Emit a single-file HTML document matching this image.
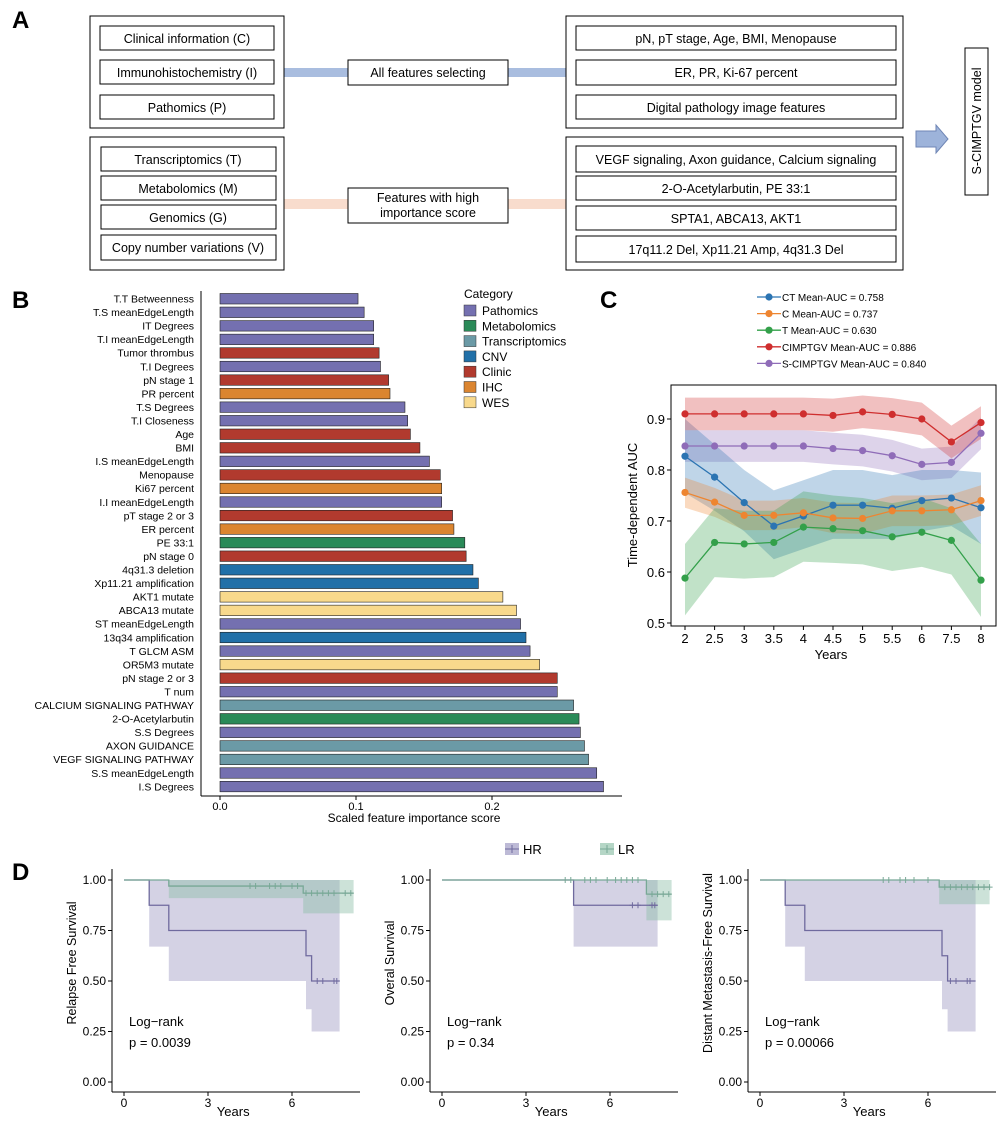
<!DOCTYPE html>
<html><head><meta charset="utf-8"><style>
body{margin:0;background:#fff}
svg{font-family:"Liberation Sans",sans-serif;display:block}
</style></head><body>
<svg id="fig" width="1006" height="1130" viewBox="0 0 1006 1130" xmlns="http://www.w3.org/2000/svg">
<g id="panelA" font-size="12.5" text-anchor="middle">
<text x="12" y="28" font-size="24" font-weight="bold" text-anchor="start">A</text>
<rect x="284" y="68" width="282" height="9" fill="#a9bddf"/>
<rect x="284" y="199" width="282" height="10" fill="#f8dccd"/>
<rect x="90" y="16" width="194" height="112" fill="none" stroke="#000"/>
<rect x="566" y="16" width="337" height="112" fill="none" stroke="#000"/>
<rect x="90" y="137" width="194" height="133" fill="none" stroke="#000"/>
<rect x="566" y="137" width="337" height="133" fill="none" stroke="#000"/>
<g fill="#fff" stroke="#000">
<rect x="100" y="26" width="174" height="24"/>
<rect x="100" y="60" width="174" height="24"/>
<rect x="100" y="95" width="174" height="24"/>
<rect x="101" y="147" width="175" height="24"/>
<rect x="101" y="176" width="175" height="24"/>
<rect x="101" y="205" width="175" height="24"/>
<rect x="101" y="235" width="175" height="25"/>
<rect x="576" y="26" width="320" height="24"/>
<rect x="576" y="60" width="320" height="25"/>
<rect x="576" y="95" width="320" height="24"/>
<rect x="576" y="146" width="320" height="26"/>
<rect x="576" y="176" width="320" height="24"/>
<rect x="576" y="206" width="320" height="24"/>
<rect x="576" y="236" width="320" height="26"/>
<rect x="348" y="60" width="160" height="25"/>
<rect x="348" y="188" width="160" height="35"/>
<rect x="965" y="48" width="23" height="147"/>
</g>
<text x="187" y="43">Clinical information (C)</text>
<text x="187" y="77">Immunohistochemistry (I)</text>
<text x="187" y="112">Pathomics (P)</text>
<text x="188" y="164">Transcriptomics (T)</text>
<text x="188" y="193">Metabolomics (M)</text>
<text x="188" y="222">Genomics (G)</text>
<text x="188" y="252">Copy number variations (V)</text>
<text x="736" y="43">pN, pT stage, Age, BMI, Menopause</text>
<text x="736" y="77">ER, PR, Ki-67 percent</text>
<text x="736" y="112">Digital pathology image features</text>
<text x="736" y="164">VEGF signaling, Axon guidance, Calcium signaling</text>
<text x="736" y="193">2-O-Acetylarbutin, PE 33:1</text>
<text x="736" y="223">SPTA1, ABCA13, AKT1</text>
<text x="736" y="254">17q11.2 Del, Xp11.21 Amp, 4q31.3 Del</text>
<text x="428" y="77">All features selecting</text>
<text x="428" y="202">Features with high</text>
<text x="428" y="217">importance score</text>
<text transform="translate(981,121) rotate(-90)">S-CIMPTGV model</text>
<path d="M916,131 H936 V125 L948,139 L936,153 V147 H916 Z" fill="#9db3da" stroke="#6f86b5"/>
</g>
<g id="panelB">
<text x="12" y="308" font-size="24" font-weight="bold">B</text>
</g>
<g id="panelC">
<text x="600" y="308" font-size="24" font-weight="bold">C</text>
</g>
<g id="panelD">
<text x="12" y="880" font-size="24" font-weight="bold">D</text>
</g>
</svg>
<script>
const NS='http://www.w3.org/2000/svg';
function mk(p,tag,at,txt){const e=document.createElementNS(NS,tag);for(const k in at)e.setAttribute(k,at[k]);if(txt!==undefined)e.textContent=txt;p.appendChild(e);return e;}
// ---------- Panel B data ----------
const featNames=["T.T Betweenness","T.S meanEdgeLength","IT Degrees","T.I meanEdgeLength","Tumor thrombus","T.I Degrees","pN stage 1","PR percent","T.S Degrees","T.I Closeness","Age","BMI","I.S meanEdgeLength","Menopause","Ki67 percent","I.I meanEdgeLength","pT stage 2 or 3","ER percent","PE 33:1","pN stage 0","4q31.3 deletion","Xp11.21 amplification","AKT1 mutate","ABCA13 mutate","ST meanEdgeLength","13q34 amplification","T GLCM ASM","OR5M3 mutate","pN stage 2 or 3","T num","CALCIUM SIGNALING PATHWAY","2-O-Acetylarbutin","S.S Degrees","AXON GUIDANCE","VEGF SIGNALING PATHWAY","S.S meanEdgeLength","I.S Degrees"];
const featScores=[0.1015,0.106,0.113,0.113,0.117,0.118,0.124,0.125,0.136,0.138,0.140,0.147,0.154,0.162,0.163,0.163,0.171,0.172,0.180,0.181,0.186,0.190,0.208,0.218,0.221,0.225,0.228,0.235,0.248,0.248,0.260,0.264,0.265,0.268,0.271,0.277,0.282];
const featCats=["P","P","P","P","Cl","P","Cl","I","P","P","Cl","Cl","P","Cl","I","P","Cl","I","M","Cl","CNV","CNV","W","W","P","CNV","P","W","Cl","P","T","M","P","T","T","P","P"];
const catKeys=["P","M","T","CNV","Cl","I","W"];
const catLabels=["Pathomics","Metabolomics","Transcriptomics","CNV","Clinic","IHC","WES"];
const catColors=["#7470b0","#2a8a58","#6b9aa6","#2170a8","#b13a2e","#db8530","#f8d98c"];
const xTicksB=[0.0,0.1,0.2];
const B=document.getElementById('panelB');
const bx=v=>220+v*1360, by=i=>292+i*13.55;
featScores.forEach((v,i)=>{
 const r=mk(B,'rect',{x:bx(0),y:by(i)+1.5,width:bx(v)-bx(0),height:10.5,fill:catColors[catKeys.indexOf(featCats[i])],stroke:'#222','stroke-width':0.6});
 
 
 const t=mk(B,'text',{x:194,y:by(i)+10.5,'font-size':10.5,'text-anchor':'end'},featNames[i]);
 
 
});
mk(B,'line',{x1:201,y1:291,x2:201,y2:796,stroke:'#000'});
mk(B,'line',{x1:201,y1:796,x2:622,y2:796,stroke:'#000'});
xTicksB.forEach(v=>{mk(B,'line',{x1:bx(v),y1:796,x2:bx(v),y2:800,stroke:'#000'});
 const t=mk(B,'text',{x:bx(v),y:810,'font-size':11,'text-anchor':'middle'},v.toFixed(1));
 
 });
{const t=mk(B,'text',{x:414,y:822,'font-size':12,'text-anchor':'middle'},'Scaled feature importance score');
 
 }
mk(B,'text',{x:464,y:298,'font-size':12},'Category');
catLabels.forEach((c,i)=>{
 const r=mk(B,'rect',{x:464,y:305+i*15.3,width:12,height:11,fill:catColors[i],stroke:'#333','stroke-width':0.5});
 
 
 const t=mk(B,'text',{x:482,y:315+i*15.3,'font-size':12},c);
 
 
});
// ---------- Panel C data ----------
const years=["2","2.5","3","3.5","4","4.5","5","5.5","6","7.5","8"];
const seriesNames=["CT Mean-AUC = 0.758","C Mean-AUC = 0.737","T Mean-AUC = 0.630","CIMPTGV Mean-AUC = 0.886","S-CIMPTGV Mean-AUC = 0.840"];
const seriesColors=["#2b74b2","#ee8530","#33a04a","#cf2e2e","#8f6cb8"];
const ctMean=[0.827,0.786,0.736,0.690,0.710,0.731,0.731,0.725,0.740,0.745,0.726];
const ctHi=[0.900,0.850,0.800,0.760,0.780,0.800,0.800,0.790,0.800,0.800,0.795];
const ctLo=[0.755,0.720,0.680,0.625,0.645,0.665,0.665,0.665,0.680,0.690,0.655];
const cMean=[0.756,0.737,0.711,0.711,0.716,0.706,0.705,0.720,0.720,0.722,0.740];
const cHi=[0.785,0.765,0.740,0.740,0.745,0.736,0.735,0.750,0.750,0.752,0.770];
const cLo=[0.726,0.708,0.682,0.682,0.688,0.676,0.675,0.690,0.690,0.692,0.710];
const tMean=[0.588,0.658,0.655,0.658,0.688,0.685,0.681,0.669,0.678,0.662,0.584];
const tHi=[0.655,0.725,0.720,0.720,0.758,0.750,0.745,0.735,0.745,0.725,0.655];
const tLo=[0.515,0.590,0.587,0.590,0.620,0.618,0.615,0.602,0.610,0.595,0.512];
const ciMean=[0.910,0.910,0.910,0.910,0.910,0.907,0.914,0.909,0.900,0.855,0.893];
const ciHi=[0.942,0.942,0.942,0.942,0.942,0.940,0.946,0.941,0.932,0.887,0.925];
const ciLo=[0.878,0.878,0.878,0.878,0.878,0.875,0.882,0.877,0.868,0.823,0.861];
const sMean=[0.847,0.847,0.847,0.847,0.847,0.842,0.838,0.828,0.811,0.815,0.872];
const sHi=[0.878,0.878,0.878,0.878,0.878,0.873,0.869,0.859,0.842,0.846,0.903];
const sLo=[0.816,0.816,0.816,0.816,0.816,0.811,0.807,0.797,0.780,0.784,0.841];
const yTicksC=[0.5,0.6,0.7,0.8,0.9];
const C=document.getElementById('panelC');
const cx=i=>685+i*29.6, cy=v=>419-(v-0.9)*510;
const means=[ctMean,cMean,tMean,ciMean,sMean],his=[ctHi,cHi,tHi,ciHi,sHi],los=[ctLo,cLo,tLo,ciLo,sLo];
[4,0,1,2,3].forEach(s=>{
 let d='M'+his[s].map((v,i)=>cx(i)+','+cy(v)).join(' L')+' L'+los[s].map((v,i)=>cx(i)+','+cy(v)).reverse().join(' L')+'Z';
 const p=mk(C,'path',{d:d,fill:seriesColors[s],'fill-opacity':0.3});
 
 
});
means.forEach((m,s)=>{
 const l=mk(C,'polyline',{points:m.map((v,i)=>cx(i)+','+cy(v)).join(' '),fill:'none',stroke:seriesColors[s],'stroke-width':1.3});
 
 
 m.forEach((v,i)=>{const c=mk(C,'circle',{cx:cx(i),cy:cy(v),r:3.6,fill:seriesColors[s]});
 
 });
});
mk(C,'rect',{x:671,y:385,width:325,height:241,fill:'none',stroke:'#000','stroke-width':1});
yTicksC.forEach(v=>{mk(C,'line',{x1:667,y1:cy(v),x2:671,y2:cy(v),stroke:'#000'});
 const t=mk(C,'text',{x:665,y:cy(v)+5,'font-size':13,'text-anchor':'end'},v.toFixed(1));
 
 });
years.forEach((y,i)=>{mk(C,'line',{x1:cx(i),y1:626,x2:cx(i),y2:630,stroke:'#000'});
 const t=mk(C,'text',{x:cx(i),y:643,'font-size':13,'text-anchor':'middle'},y);
 
 });
{const t=mk(C,'text',{x:831,y:659,'font-size':13,'text-anchor':'middle'},'Years');
 
 
 const u=mk(C,'text',{transform:'translate(637,505) rotate(-90)','font-size':13,'text-anchor':'middle'},'Time-dependent AUC');
 
 }
seriesNames.forEach((n,s)=>{const y=297+s*16.6;
 mk(C,'line',{x1:757,y1:y,x2:781,y2:y,stroke:seriesColors[s],'stroke-width':1.3});
 mk(C,'circle',{cx:769,cy:y,r:3.6,fill:seriesColors[s]});
 const t=mk(C,'text',{x:782,y:y+4,'font-size':10},n);
 
 });
// ---------- Panel D data ----------
const kmTitles=["Relapse Free Survival","Overal Survival","Distant Metastasis-Free Survival"];
const kmP=["p = 0.0039","p = 0.34","p = 0.00066"];
const hrT=[[0,0.9,1.6,6.5,6.7,7.7],[0,4.7,7.7],[0,0.9,1.6,6.5,6.7,7.7]];
const hrS=[[1,0.875,0.75,0.625,0.5,0.5],[1,0.875,0.875],[1,0.875,0.75,0.625,0.5,0.5]];
const hrLo=[[1,0.67,0.5,0.36,0.25,0.25],[1,0.67,0.67],[1,0.67,0.5,0.36,0.25,0.25]];
const hrHi=[[1,1,1,1,1,1],[1,1,1],[1,1,1,1,1,1]];
const lrT=[[0,1.6,6.4,8.2],[0,7.3,8.2],[0,6.4,8.2]];
const lrS=[[1,0.97,0.935,0.935],[1,0.93,0.93],[1,0.965,0.965]];
const lrLo=[[1,0.91,0.835,0.835],[1,0.8,0.8],[1,0.88,0.88]];
const lrHi=[[1,1,1,1],[1,1,1],[1,1,1]];
const hrCens=[[6.9,7.1,7.5,7.6],[6.8,7.0,7.5,7.6],[6.8,7.0,7.4,7.5]];
const lrCens=[[4.5,4.7,5.2,5.4,5.6,6.0,6.2,6.5,6.7,6.9,7.1,7.3,7.5,7.9,8.1],[4.4,4.6,5.1,5.3,5.5,5.9,6.2,6.4,6.6,6.8,7.0,7.5,7.7,7.9,8.1],[4.4,4.6,5.0,5.2,5.5,6.0,6.6,6.8,7.0,7.2,7.4,7.6,7.8,8.0,8.2]];
const kmTicks=[0,3,6];
const yTicksD=[0,0.25,0.5,0.75,1];
const D=document.getElementById('panelD');
const hrCol='#6f6a9e',lrCol='#78a896';
const offs=[0,318,636];
function stepPath(T,S,x,y){let d='M'+x(T[0])+','+y(S[0]);for(let i=1;i<T.length;i++){d+=' H'+x(T[i])+' V'+y(S[i]);}return d;}
function bandPath(T,Lo,Hi,x,y){let top=[],bot=[];for(let i=0;i<T.length;i++){const x0=x(T[i]),x1=x(i+1<T.length?T[i+1]:T[i]);top.push(x0+','+y(Hi[i]),x1+','+y(Hi[i]));bot.push(x0+','+y(Lo[i]),x1+','+y(Lo[i]));}return 'M'+top.join(' L')+' L'+bot.reverse().join(' L')+'Z';}
offs.forEach((o,k)=>{
 const x=t=>124+o+t*28, y=v=>1082-v*202;
 const hb=mk(D,'path',{d:bandPath(hrT[k],hrLo[k],hrHi[k],x,y),fill:'#bdbad6','fill-opacity':0.65});
 
 
 const lb=mk(D,'path',{d:bandPath(lrT[k],lrLo[k],lrHi[k],x,y),fill:'#8dbfa8','fill-opacity':0.45});
 
 
 const hl=mk(D,'path',{d:stepPath(hrT[k],hrS[k],x,y),fill:'none',stroke:hrCol,'stroke-width':1.3});
 
 
 const ll=mk(D,'path',{d:stepPath(lrT[k],lrS[k],x,y),fill:'none',stroke:lrCol,'stroke-width':1.3});
 
 
 const sAt=(T,S,t)=>{let s=S[0];for(let i=0;i<T.length;i++)if(T[i]<=t)s=S[i];return s;};
 hrCens[k].forEach(t=>mk(D,'path',{d:'M'+(x(t)-3)+','+y(sAt(hrT[k],hrS[k],t))+' h6 M'+x(t)+','+(y(sAt(hrT[k],hrS[k],t))-3)+' v6',stroke:hrCol}));
 lrCens[k].forEach(t=>mk(D,'path',{d:'M'+(x(t)-3)+','+y(sAt(lrT[k],lrS[k],t))+' h6 M'+x(t)+','+(y(sAt(lrT[k],lrS[k],t))-3)+' v6',stroke:lrCol}));
 mk(D,'line',{x1:112+o,y1:869,x2:112+o,y2:1092,stroke:'#000'});
 mk(D,'line',{x1:112+o,y1:1092,x2:360+o,y2:1092,stroke:'#000'});
 yTicksD.forEach(v=>{mk(D,'line',{x1:108+o,y1:y(v),x2:112+o,y2:y(v),stroke:'#000'});
  const t=mk(D,'text',{x:106+o,y:y(v)+4,'font-size':12,'text-anchor':'end'},v.toFixed(2));
  
  });
 kmTicks.forEach(v=>{mk(D,'line',{x1:x(v),y1:1092,x2:x(v),y2:1096,stroke:'#000'});
  const t=mk(D,'text',{x:x(v),y:1107,'font-size':12,'text-anchor':'middle'},v);
  
  });
 const yt=mk(D,'text',{x:x(3.9),y:1116,'font-size':13,'text-anchor':'middle'},'Years');
 
 
 const tt=mk(D,'text',{transform:'translate('+(76+o)+',963) rotate(-90)','font-size':12.5,'text-anchor':'middle'},kmTitles[k]);
 
 
 mk(D,'text',{x:129+o,y:1026,'font-size':13},'Log\u2212rank');
 const pt=mk(D,'text',{x:129+o,y:1047,'font-size':13},kmP[k]);
 
 
});
[[505,'HR','#bdbad6',hrCol],[600,'LR','#b5d6c6',lrCol]].forEach(([lx,l,f,s])=>{
 mk(D,'rect',{x:lx,y:843,width:14,height:12,fill:f});
 mk(D,'path',{d:'M'+lx+',849 h14 M'+(lx+7)+',845 v8',stroke:s});
 const t=mk(D,'text',{x:lx+18,y:854,'font-size':13},l);
 
 
});
</script>
</body></html>
